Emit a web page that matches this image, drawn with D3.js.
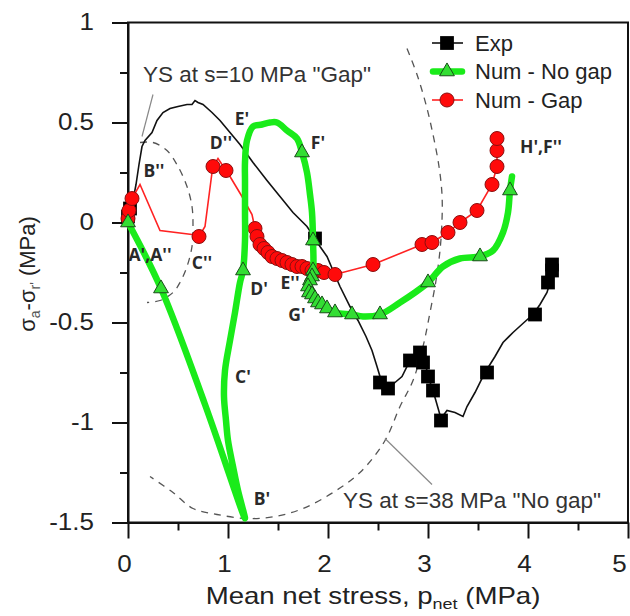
<!DOCTYPE html>
<html>
<head>
<meta charset="utf-8">
<script src="https://cdn.jsdelivr.net/npm/d3@7"></script>
<style>
  body { margin: 0; background: #fff; }
  svg { display: block; }
</style>
</head>
<body>
<svg id="chart" width="630" height="616"></svg>
<script>
// ---- axis ticks ----
const xMajor = [0, 1, 2, 3, 4, 5];
const xMinor = [0.5, 1.5, 2.5, 3.5, 4.5];
const yMajor = [-1.5, -1, -0.5, 0, 0.5, 1];
const yMinor = [-1.25, -0.75, -0.25, 0.25, 0.75];

// ---- Exp: measured stress path (p_net, q) ----
const expPath = [
  [0.00,0.04],[0.05,0.11],[0.08,0.19],[0.11,0.29],[0.14,0.38],[0.17,0.41],[0.24,0.45],
  [0.29,0.51],[0.35,0.55],[0.42,0.57],[0.50,0.58],[0.59,0.59],[0.64,0.59],[0.67,0.61],
  [0.70,0.60],[0.75,0.59],[0.84,0.55],[0.92,0.51],[1.02,0.45],[1.12,0.39],[1.25,0.30],
  [1.39,0.21],[1.52,0.13],[1.65,0.05],[1.79,-0.02],[1.87,-0.08],[1.92,-0.12],[1.99,-0.17],
  [2.05,-0.24],[2.12,-0.32],[2.22,-0.42],[2.30,-0.49],[2.38,-0.57],[2.44,-0.64],[2.49,-0.72],
  [2.52,-0.77],[2.55,-0.85],[2.60,-0.83],[2.67,-0.80],[2.74,-0.77],[2.82,-0.69],[2.92,-0.64],
  [2.97,-0.69],[3.00,-0.77],[3.05,-0.84],[3.09,-0.91],[3.13,-0.98],[3.19,-0.94],[3.27,-0.95],
  [3.35,-0.97],[3.39,-0.92],[3.47,-0.85],[3.57,-0.75],[3.67,-0.67],[3.75,-0.60],[3.85,-0.55],
  [3.96,-0.50],[4.05,-0.46],[4.12,-0.41],[4.19,-0.35],[4.22,-0.30],[4.24,-0.24],[4.25,-0.20]
];
const expMarks = [
  [0.00,0.03],[0.02,0.07],[1.87,-0.08],[2.52,-0.80],[2.60,-0.83],[2.82,-0.69],[2.92,-0.65],
  [2.95,-0.70],[3.00,-0.77],[3.05,-0.84],[3.13,-0.99],[3.59,-0.75],[4.07,-0.46],
  [4.20,-0.30],[4.24,-0.24],[4.24,-0.21]
];

// ---- Num - No gap ----
const noGapPath = [
  [0.00,0.00],[0.33,-0.33],[0.77,-0.91],[1.17,-1.48],[1.10,-1.34],[1.05,-1.22],[1.00,-1.09],
  [0.98,-0.99],[0.96,-0.87],[0.97,-0.74],[1.02,-0.59],[1.07,-0.45],[1.12,-0.30],[1.15,-0.24],
  [1.17,-0.09],[1.17,0.05],[1.17,0.21],[1.17,0.30],[1.19,0.41],[1.25,0.48],[1.34,0.49],
  [1.42,0.50],[1.49,0.50],[1.59,0.46],[1.69,0.42],[1.74,0.35],[1.79,0.25],[1.82,0.14],
  [1.84,0.05],[1.85,-0.09],[1.85,-0.24],[1.82,-0.29],[1.80,-0.32],[1.81,-0.35],[1.87,-0.38],
  [1.94,-0.41],[2.07,-0.45],[2.24,-0.46],[2.35,-0.47],[2.52,-0.46],[2.72,-0.40],[2.87,-0.35],
  [3.00,-0.30],[3.15,-0.22],[3.32,-0.18],[3.52,-0.17],[3.65,-0.14],[3.75,-0.05],[3.80,0.05],
  [3.82,0.16],[3.84,0.23]
];
const noGapMarks = [
  [0.00,0.00],[0.33,-0.33],[1.15,-0.24],[1.74,0.35],[1.85,-0.09],[1.85,-0.24],[1.84,-0.27],
  [1.82,-0.29],[1.80,-0.32],[1.81,-0.35],[1.84,-0.36],[1.87,-0.38],[1.90,-0.40],[1.94,-0.41],
  [1.99,-0.43],[2.07,-0.45],[2.24,-0.46],[2.52,-0.46],[3.00,-0.30],[3.52,-0.17],[3.82,0.16]
];

// ---- Num - Gap ----
const gapPath = [
  [0.00,0.02],[0.01,0.06],[0.04,0.12],[0.12,0.19],[0.32,-0.04],[0.64,-0.06],[0.71,-0.07],
  [0.77,-0.02],[0.84,0.25],[0.85,0.28],[0.90,0.32],[0.98,0.26],[1.02,0.23],[1.14,0.13],
  [1.24,0.04],[1.27,-0.03],[1.29,-0.07],[1.32,-0.11],[1.36,-0.13],[1.40,-0.15],[1.44,-0.17],
  [1.49,-0.18],[1.54,-0.19],[1.59,-0.20],[1.64,-0.21],[1.69,-0.22],[1.74,-0.22],[1.79,-0.23],
  [1.84,-0.24],[1.90,-0.24],[1.96,-0.25],[2.07,-0.26],[2.45,-0.21],[2.94,-0.11],[3.04,-0.10],
  [3.20,-0.05],[3.32,0.00],[3.49,0.06],[3.64,0.19],[3.69,0.28],[3.69,0.36],[3.69,0.42]
];
const gapMarks = [
  [0.00,0.02],[0.01,0.06],[0.04,0.12],[0.71,-0.07],[0.85,0.28],[0.98,0.26],
  [1.27,-0.03],[1.29,-0.07],[1.32,-0.11],[1.36,-0.13],[1.40,-0.15],[1.44,-0.17],[1.49,-0.18],
  [1.54,-0.19],[1.59,-0.20],[1.64,-0.21],[1.69,-0.22],[1.74,-0.22],[1.79,-0.23],[1.84,-0.24],
  [1.90,-0.24],[1.96,-0.25],[2.07,-0.26],[2.45,-0.21],[2.94,-0.11],[3.04,-0.10],[3.20,-0.05],
  [3.32,0.00],[3.49,0.06],[3.64,0.19],[3.69,0.28],[3.69,0.36],[3.69,0.42]
];

// ---- yield surfaces ----
const ys10 = [
  [0.12,0.40],[0.25,0.40],[0.39,0.36],[0.50,0.28],[0.59,0.18],[0.64,0.08],[0.65,-0.02],
  [0.64,-0.12],[0.59,-0.22],[0.52,-0.30],[0.45,-0.35],[0.32,-0.39],[0.19,-0.40]
];
const ys38 = [
  [2.79,0.87],[2.89,0.74],[2.98,0.59],[3.05,0.44],[3.11,0.28],[3.14,0.14],[3.14,0.01],
  [3.12,-0.14],[3.08,-0.29],[3.02,-0.45],[2.95,-0.62],[2.85,-0.79],[2.72,-0.92],[2.57,-1.09],
  [2.32,-1.25],[2.05,-1.35],[1.75,-1.43],[1.47,-1.47],[1.19,-1.48],[0.89,-1.46],[0.65,-1.43],
  [0.45,-1.35],[0.22,-1.27]
];

// ---- point labels ----
const pointLabels = [
  ["A',A''",0.22,-0.16],["B''",0.26,0.26],["C''",0.74,-0.20],["D''",0.93,0.40],
  ["E'",1.14,0.52],["F'",1.90,0.40],["D'",1.31,-0.33],["E''",1.62,-0.30],
  ["G'",1.69,-0.46],["C'",1.15,-0.77],["B'",1.34,-1.38],["H',F''",4.13,0.38]
];
const ysNotes = [
  { text: 'YS at s=10 MPa "Gap"', at: [0.15,0.74], from: [0.25,0.64], to: [0.14,0.43] },
  { text: 'YS at s=38 MPa "No gap"', at: [2.15,-1.39], from: [3.04,-1.31], to: [2.57,-1.08] }
];
const legendItems = ["Exp", "Num - No gap", "Num - Gap"];

const svg = d3.select("#chart");
const x = d3.scaleLinear().domain([0, 5]).range([128, 628]);
const y = d3.scaleLinear().domain([-1.5, 1]).range([522.5, 22.5]);
const FONT = "'Liberation Sans', Arial, sans-serif";

// widen a text horizontally around its anchor point
function stretch(sel, sx) {
  sel.each(function () {
    const t = d3.select(this);
    const x0 = +t.attr("x") || 0, y0 = +t.attr("y") || 0;
    t.attr("x", 0).attr("y", 0).attr("transform", `translate(${x0},${y0}) scale(${sx},1)`);
  });
}

// frame
svg.append("rect").attr("x", x(0)).attr("y", y(1)).attr("width", x(5) - x(0)).attr("height", y(-1.5) - y(1))
  .attr("fill", "none").attr("stroke", "#111").attr("stroke-width", 2);

// axes
const fmt = d => String(d);
const gx = svg.append("g").attr("transform", `translate(0,${y(-1.5)})`)
  .call(d3.axisBottom(x).tickValues(xMajor).tickSize(16).tickSizeOuter(0).tickPadding(17).tickFormat(fmt));
svg.append("g").attr("transform", `translate(0,${y(-1.5)})`)
  .call(d3.axisBottom(x).tickValues(xMinor).tickSize(8).tickSizeOuter(0).tickFormat(""))
  .call(g => g.select(".domain").remove());
const gy = svg.append("g").attr("transform", `translate(${x(0)},0)`)
  .call(d3.axisLeft(y).tickValues(yMajor).tickSize(16).tickSizeOuter(0).tickPadding(18).tickFormat(fmt));
svg.append("g").attr("transform", `translate(${x(0)},0)`)
  .call(d3.axisLeft(y).tickValues(yMinor).tickSize(8).tickSizeOuter(0).tickFormat(""))
  .call(g => g.select(".domain").remove());
svg.selectAll(".tick line").attr("stroke", "#111").attr("stroke-width", 2);
svg.selectAll(".domain").attr("stroke", "#111").attr("stroke-width", 2);
gx.selectAll("text").attr("x", d => d === 5 ? -9 : -4);
[gx, gy].forEach(g => g.selectAll("text").attr("font-family", FONT).attr("font-size", 23).attr("fill", "#222"));
stretch(gx.selectAll("text"), 1.13);
stretch(gy.selectAll("text"), 1.13);

// axis titles
const xt = svg.append("text").attr("text-anchor", "middle").attr("font-family", FONT)
  .attr("font-size", 23).attr("fill", "#222").attr("x", 373).attr("y", 604);
xt.append("tspan").text("Mean net stress, p");
xt.append("tspan").attr("font-size", 15).attr("dy", 5).text("net");
xt.append("tspan").attr("dy", -5).text(" (MPa)");
stretch(xt, 1.2);

const yt = svg.append("text").attr("text-anchor", "middle").attr("font-family", FONT)
  .attr("font-size", 22).attr("fill", "#222")
  .attr("transform", "translate(35,274) rotate(-90)");
yt.append("tspan").text("σ");
yt.append("tspan").attr("font-size", 14).attr("dy", 5).attr("fill", "#555").text("a");
yt.append("tspan").attr("dy", -5).text("-σ");
yt.append("tspan").attr("font-size", 14).attr("dy", 5).attr("fill", "#555").text("r'");
yt.append("tspan").attr("dy", -5).text(" (MPa)");

// yield surfaces (dashed) and leaders
const smooth = d3.line().x(d => x(d[0])).y(d => y(d[1])).curve(d3.curveCatmullRom);
const straight = d3.line().x(d => x(d[0])).y(d => y(d[1]));
[ys10, ys38].forEach(s => svg.append("path").attr("d", smooth(s)).attr("fill", "none")
  .attr("stroke", "#555").attr("stroke-width", 1.3).attr("stroke-dasharray", "7,6"));
ysNotes.forEach(n => {
  svg.append("line").attr("x1", x(n.from[0])).attr("y1", y(n.from[1]))
    .attr("x2", x(n.to[0])).attr("y2", y(n.to[1])).attr("stroke", "#888").attr("stroke-width", 1.2);
  svg.append("text").attr("x", x(n.at[0])).attr("y", y(n.at[1])).attr("dy", "0.35em")
    .attr("font-family", FONT).attr("font-size", 22.5).attr("fill", "#333").text(n.text);
});

// symbols
const sqr = d3.symbol().type(d3.symbolSquare).size(190);
const tri = d3.symbol().type(d3.symbolTriangle).size(95);

// Exp
svg.append("path").attr("d", straight(expPath)).attr("fill", "none").attr("stroke", "#111").attr("stroke-width", 1.6);
svg.append("g").selectAll("path").data(expMarks).join("path").attr("d", sqr)
  .attr("transform", d => `translate(${x(d[0])},${y(d[1])})`).attr("fill", "#000");

// Num - Gap
svg.append("path").attr("d", straight(gapPath)).attr("fill", "none").attr("stroke", "#f22").attr("stroke-width", 1.6);
svg.append("g").selectAll("circle").data(gapMarks).join("circle")
  .attr("cx", d => x(d[0])).attr("cy", d => y(d[1])).attr("r", 7)
  .attr("fill", "#ff0a0a").attr("stroke", "#8a1010").attr("stroke-width", 1);

// Num - No gap
svg.append("path").attr("d", smooth(noGapPath)).attr("fill", "none").attr("stroke", "#1aeb1a")
  .attr("stroke-width", 6.5).attr("stroke-linejoin", "round").attr("stroke-linecap", "round");
svg.append("g").selectAll("path").data(noGapMarks).join("path").attr("d", tri)
  .attr("transform", d => `translate(${x(d[0])},${y(d[1])})`)
  .attr("fill", "#33dd33").attr("stroke", "#1a4d1a").attr("stroke-width", 1);

// point labels
svg.append("g").selectAll("text").data(pointLabels).join("text")
  .attr("x", d => x(d[1])).attr("y", d => y(d[2])).attr("dy", "0.35em").attr("text-anchor", "middle")
  .attr("font-family", "'Open Sans', sans-serif").attr("font-weight", 700).attr("font-size", 17.5)
  .attr("fill", "#2a2a2a").text(d => d[0]);

// legend
const lg = svg.append("g");
legendItems.forEach((name, i) => {
  const ly = 43 + i * 28.5;
  const row = lg.append("g").attr("transform", `translate(447,${ly})`);
  if (i === 0) {
    row.append("line").attr("x1", -15).attr("x2", 16).attr("stroke", "#111").attr("stroke-width", 1.6);
    row.append("path").attr("d", sqr).attr("fill", "#000");
  } else if (i === 1) {
    row.append("line").attr("x1", -14).attr("x2", 15).attr("stroke", "#1aeb1a").attr("stroke-width", 6.5).attr("stroke-linecap", "round");
    row.append("path").attr("d", tri).attr("fill", "#33dd33").attr("stroke", "#1a4d1a");
  } else {
    row.append("line").attr("x1", -15).attr("x2", 16).attr("stroke", "#f22").attr("stroke-width", 1.6);
    row.append("circle").attr("r", 7).attr("fill", "#ff0a0a").attr("stroke", "#8a1010");
  }
  row.append("text").attr("x", 28).attr("dy", "0.35em").attr("font-family", FONT)
    .attr("font-size", 22).attr("fill", "#222").text(name);
});
</script>
</body>
</html>
